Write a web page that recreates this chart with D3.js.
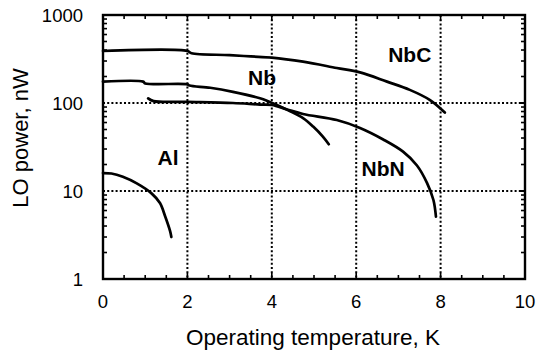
<!DOCTYPE html>
<html><head><meta charset="utf-8">
<script src="https://cdn.jsdelivr.net/npm/d3@7"></script>
<style>body{margin:0;background:#fff}svg{display:block}text{font-family:"Liberation Sans",Arial,sans-serif;fill:#000}</style>
</head><body><svg id="c" width="540" height="353"></svg>
<script>
const xTicks = [0, 2, 4, 6, 8, 10];
const yTicks = [1, 10, 100, 1000];
const seriesNames = ["NbC", "Nb", "NbN", "Al"];
const NbC = [[0,390],[2.0,390],[2.1,367],[3.0,350],[3.5,338],[4.0,328],[4.74,295],[5.54,250],[6.09,223],[6.73,175],[7.27,141],[7.75,108],[8.1,78]];
const Nb = [[0,175],[0.95,175],[1.0,167],[2.0,163],[2.05,158],[2.54,149],[3.08,134],[3.72,113],[4.12,95],[4.4,82],[4.74,67.5],[4.98,54],[5.21,41.5],[5.35,34]];
const NbN = [[1.07,113],[1.2,105],[2.0,103],[3.08,100],[3.72,96],[4.0,95],[4.35,85],[4.74,75],[5.54,64],[6.09,52],[6.64,38.5],[7.11,28],[7.44,19.5],[7.68,12.3],[7.83,7.9],[7.89,5.1]];
const Al = [[0,16.0],[0.2,15.8],[0.47,14.5],[0.8,12.2],[1.15,9.4],[1.35,7.3],[1.47,5.2],[1.59,3.5],[1.62,3.0]];
const labels = [["NbC",7.27,292],["Nb",3.77,160],["NbN",6.64,14.8],["Al",1.54,19.7]];

const svg = d3.select("#c");
const L=103,R=525,T=15,B=279;
const x = d3.scaleLinear().domain([0,10]).range([L,R]);
const y = d3.scaleLog().domain([1,1000]).range([B,T]);

// grid
const g = svg.append("g");
[2,4,6,8].forEach(v=>g.append("line").attr("x1",x(v)).attr("x2",x(v)).attr("y1",T).attr("y2",B)
  .attr("stroke","#000").attr("stroke-width",2).attr("stroke-dasharray","2,2.2"));
[10,100].forEach(v=>g.append("line").attr("x1",L).attr("x2",R).attr("y1",y(v)).attr("y2",y(v))
  .attr("stroke","#000").attr("stroke-width",2).attr("stroke-dasharray","2,2.2"));

// minor ticks
const xm = d3.range(0.5,10,0.5).filter(v=>v%2!==0);
xm.forEach(v=>{
  g.append("line").attr("x1",x(v)).attr("x2",x(v)).attr("y1",B).attr("y2",B-4).attr("stroke","#000").attr("stroke-width",1.6);
  g.append("line").attr("x1",x(v)).attr("x2",x(v)).attr("y1",T).attr("y2",T+4).attr("stroke","#000").attr("stroke-width",1.6);
});
[2,4,6,8].forEach(v=>{
  g.append("line").attr("x1",x(v)).attr("x2",x(v)).attr("y1",B).attr("y2",B-6).attr("stroke","#000").attr("stroke-width",1.6);
  g.append("line").attr("x1",x(v)).attr("x2",x(v)).attr("y1",T).attr("y2",T+6).attr("stroke","#000").attr("stroke-width",1.6);
});
const ym=[];[1,10,100].forEach(d=>{for(let k=2;k<=9;k++)ym.push(d*k);});
ym.forEach(v=>{
  g.append("line").attr("x1",L).attr("x2",L+4).attr("y1",y(v)).attr("y2",y(v)).attr("stroke","#000").attr("stroke-width",1.6);
  g.append("line").attr("x1",R).attr("x2",R-4).attr("y1",y(v)).attr("y2",y(v)).attr("stroke","#000").attr("stroke-width",1.6);
});
[10,100].forEach(v=>{
  g.append("line").attr("x1",R).attr("x2",R-6).attr("y1",y(v)).attr("y2",y(v)).attr("stroke","#000").attr("stroke-width",2);
});

// curves
const line = d3.line().x(d=>x(d[0])).y(d=>y(d[1])).curve(d3.curveCatmullRom.alpha(0.5));
[NbC,Nb,NbN,Al].forEach(s=>svg.append("path").attr("d",line(s)).attr("fill","none")
  .attr("stroke","#000").attr("stroke-width",2.7).attr("stroke-linejoin","round").attr("stroke-linecap","round"));

// frame
svg.append("rect").attr("x",L).attr("y",T).attr("width",R-L).attr("height",B-T)
  .attr("fill","none").attr("stroke","#000").attr("stroke-width",2.4);

// tick labels
xTicks.forEach(v=>svg.append("text").attr("x",x(v)).attr("y",308).attr("text-anchor","middle")
  .attr("font-size",18.5).text(v));
yTicks.forEach(v=>svg.append("text").attr("x",83).attr("y",y(v)).attr("dy","0.36em").attr("text-anchor","end")
  .attr("font-size",18.5).text(v));

// titles
svg.append("text").attr("x",313).attr("y",345).attr("text-anchor","middle").attr("font-size",22.5)
  .text("Operating temperature, K");
svg.append("text").attr("transform","translate(28,138) rotate(-90)").attr("text-anchor","middle").attr("font-size",22)
  .text("LO power, nW");

// series labels
labels.forEach(l=>svg.append("text").attr("x",x(l[1])).attr("y",y(l[2])).attr("text-anchor","middle")
  .attr("font-size",21).attr("font-weight","bold").text(l[0]));
</script></body></html>
